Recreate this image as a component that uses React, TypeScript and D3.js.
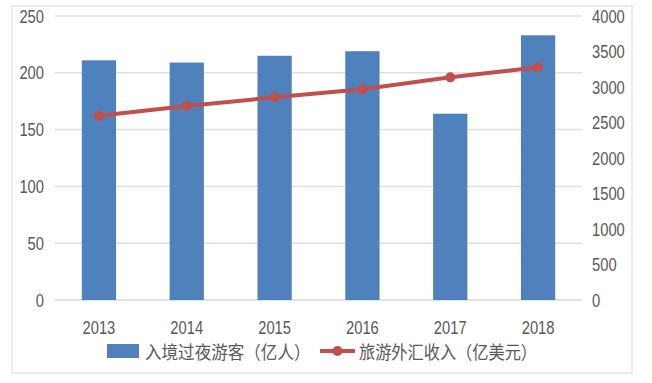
import React from "react";
import * as d3 from "d3";

const years = ["2013", "2014", "2015", "2016", "2017", "2018"];
const visitors = [211, 209, 215, 219, 164, 233];
const income = [2596, 2732, 2855, 2967, 3136, 3277];
const leftTicks = [0, 50, 100, 150, 200, 250];
const rightTicks = [0, 500, 1000, 1500, 2000, 2500, 3000, 3500, 4000];
const barName = "入境过夜游客（亿人）";
const lineName = "旅游外汇收入（亿美元）";

const W = 652;
const H = 383;
const left = 55;
const right = 582;
const top = 16;
const bottom = 300;
const textColor = "#595959";
const numFont = "'Liberation Sans', Arial, sans-serif";
const cjkFont = "'Noto Sans CJK SC', sans-serif";

function Txt(props: { x: number; y: number; anchor?: string; sx?: number; size?: number; font?: string; children: any }) {
  const { x, y, anchor = "start", sx = 0.82, size = 18, font = numFont, children } = props;
  return (
    <text
      transform={`translate(${x},${y}) scale(${sx},1)`}
      textAnchor={anchor as any}
      dominantBaseline="central"
      fontSize={size}
      fontFamily={font}
      fill={textColor}
    >
      {children}
    </text>
  );
}

export default function App() {
  const x = d3.scaleBand<string>().domain(years).range([left, right]).paddingInner(0.61).paddingOuter(0.305);
  const yL = d3.scaleLinear().domain([0, 250]).range([bottom, top]);
  const yR = d3.scaleLinear().domain([0, 4000]).range([bottom, top]);
  const cx = (d: string) => (x(d) as number) + x.bandwidth() / 2;
  const line = d3
    .line<number>()
    .x((_, i) => cx(years[i]))
    .y((v) => yR(v));

  return (
    <svg width={W} height={H} style={{ position: "absolute", left: 0, top: 0, background: "#fff" }}>
      <rect x={12} y={6} width={620} height={367} fill="#fff" stroke="#D9D9D9" strokeWidth={1} />
      {leftTicks.map((t) => (
        <line key={"g" + t} x1={left} x2={right} y1={yL(t)} y2={yL(t)} stroke={t === 0 ? "#D9D9D9" : "#E0E0E0"} strokeWidth={1.5} />
      ))}
      {years.map((yr, i) => (
        <rect key={"b" + yr} x={x(yr)} y={yL(visitors[i])} width={x.bandwidth()} height={bottom - yL(visitors[i])} fill="#4F81BD" />
      ))}
      <path d={line(income) || ""} fill="none" stroke="#C0504D" strokeWidth={4} />
      {income.map((v, i) => (
        <circle key={"c" + i} cx={cx(years[i])} cy={yR(v)} r={5} fill="#C0504D" />
      ))}
      {leftTicks.map((t) => (
        <Txt key={"l" + t} x={44} y={yL(t)} anchor="end">
          {t}
        </Txt>
      ))}
      {rightTicks.map((t) => (
        <Txt key={"r" + t} x={592} y={yR(t)} anchor="start">
          {t}
        </Txt>
      ))}
      {years.map((yr) => (
        <Txt key={"x" + yr} x={cx(yr)} y={327} anchor="middle">
          {yr}
        </Txt>
      ))}
      <rect x={107} y={344} width={32} height={14} fill="#4F81BD" />
      <Txt x={145} y={351} font={cjkFont} size={18} sx={0.92}>
        {barName}
      </Txt>
      <line x1={320} x2={355} y1={351} y2={351} stroke="#C0504D" strokeWidth={4} />
      <circle cx={337.5} cy={351} r={5} fill="#C0504D" />
      <Txt x={359} y={351} font={cjkFont} size={18} sx={0.9}>
        {lineName}
      </Txt>
    </svg>
  );
}
